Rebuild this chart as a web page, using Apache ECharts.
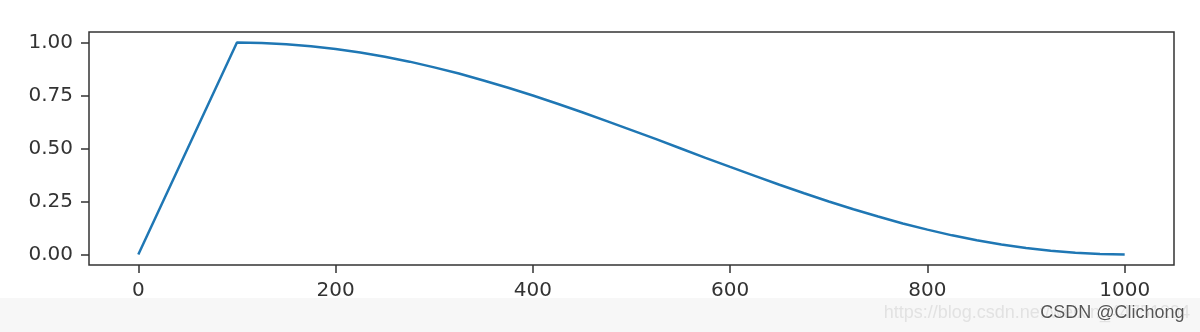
<!DOCTYPE html>
<html><head><meta charset="utf-8">
<script src="https://cdn.jsdelivr.net/npm/echarts@6/dist/echarts.min.js"></script>
<style>html,body{margin:0;padding:0;background:#fff}#c{width:1200px;height:332px}</style>
</head><body><div id="c"></div>
<script>
// Learning-rate schedule: linear warmup then cosine decay
const steps = [0, 100, 125, 150, 175, 200, 225, 250, 275, 300, 325, 350, 375, 400, 425, 450, 475, 500, 525, 550, 575, 600, 625, 650, 675, 700, 725, 750, 775, 800, 825, 850, 875, 900, 925, 950, 975, 1000];
const values = [0, 1.0, 0.998, 0.992, 0.983, 0.970, 0.953, 0.933, 0.910, 0.883, 0.854, 0.821, 0.787, 0.750, 0.711, 0.671, 0.629, 0.587, 0.544, 0.500, 0.456, 0.413, 0.371, 0.329, 0.289, 0.250, 0.213, 0.179, 0.146, 0.117, 0.090, 0.067, 0.047, 0.030, 0.017, 0.008, 0.002, 0.0];
const xTicks = [0, 200, 400, 600, 800, 1000];
const yTicks = [0, 0.25, 0.5, 0.75, 1.0];
const watermarkUrl = 'https://blog.csdn.net/weixin_44751294';
const watermarkName = 'CSDN @Clichong';

const chart = echarts.init(document.getElementById('c'), null, {renderer: 'canvas'});
const font = 'DejaVu Sans';
chart.setOption({
  animation: false,
  backgroundColor: '#fff',
  grid: {left: 89, right: 26, top: 32, bottom: 67, show: true, borderColor: '#333', borderWidth: 1.5, backgroundColor: 'transparent'},
  xAxis: {
    type: 'value', min: -50, max: 1050,
    splitLine: {show: false},
    axisLine: {show: false, onZero: false},
    axisTick: {show: true, customValues: xTicks, length: 8, lineStyle: {color: '#333', width: 1.5}},
    axisLabel: {customValues: xTicks, color: '#333', fontFamily: font, fontSize: 20, margin: 16,
      formatter: v => String(v)}
  },
  yAxis: {
    type: 'value', min: -0.05, max: 1.05,
    splitLine: {show: false},
    axisLine: {show: false, onZero: false},
    axisTick: {show: true, customValues: yTicks, length: 8, lineStyle: {color: '#333', width: 1.5}},
    axisLabel: {customValues: yTicks, color: '#333', fontFamily: font, fontSize: 20, margin: 16,
      formatter: v => v.toFixed(2)}
  },
  series: [{
    type: 'line', showSymbol: false, symbol: 'none',
    data: steps.map((s, i) => [s, values[i]]),
    lineStyle: {color: '#1f77b4', width: 2.5}
  }],
  graphic: [
    {type: 'rect', left: 0, top: 298, shape: {width: 1200, height: 34}, style: {fill: '#f7f7f7'}, silent: true, z: -1},
    {type: 'text', right: 10, top: 304, style: {text: watermarkUrl, font: '18px "Liberation Sans"', fill: '#e2e2e2'}, silent: true},
    {type: 'text', right: 15, top: 304, style: {text: watermarkName, font: '18px "Liberation Sans"', fill: '#555', stroke: '#fff', lineWidth: 1}, silent: true}
  ]
});
</script></body></html>
